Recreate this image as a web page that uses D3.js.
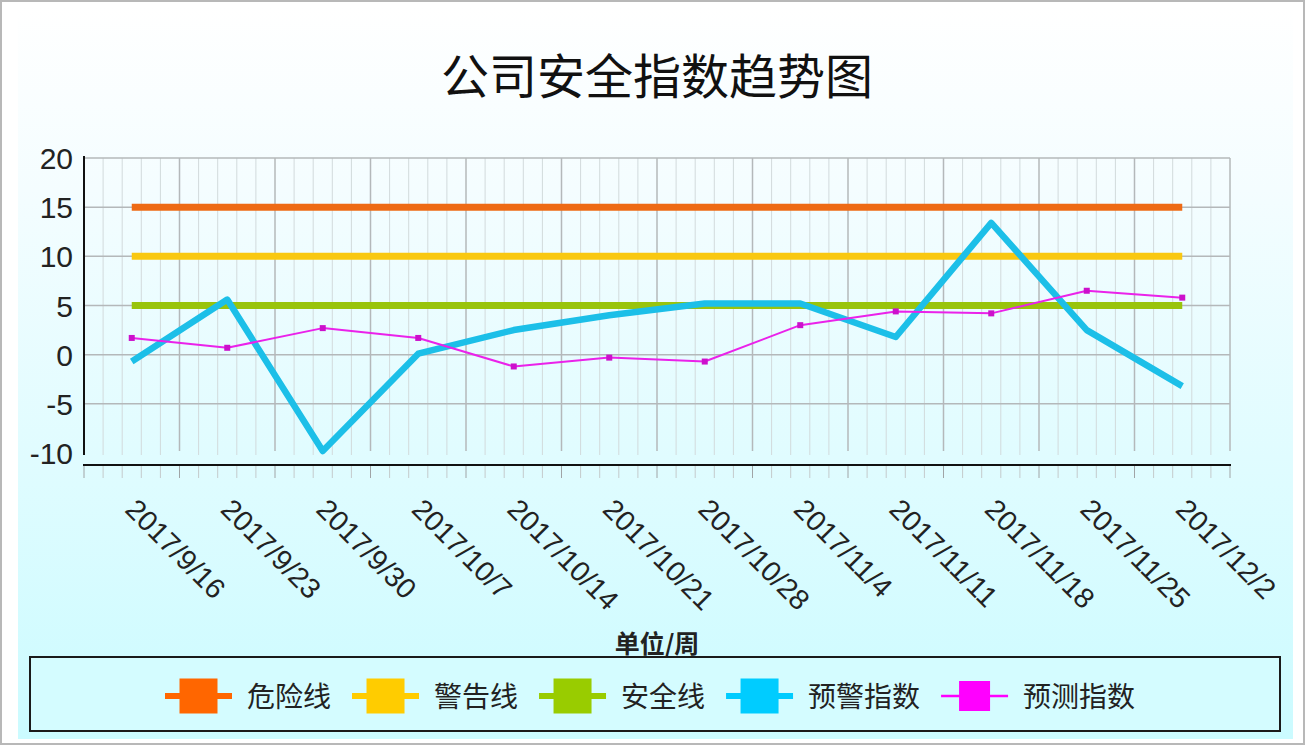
<!DOCTYPE html>
<html>
<head>
<meta charset="utf-8">
<script src="https://cdn.jsdelivr.net/npm/d3@7/dist/d3.min.js"></script>
<style>
    html, body { margin: 0; padding: 0; background: #fff; }
    svg { display: block; }
</style>
</head>
<body>
<svg id="chart" width="1305" height="745"></svg>
<script>
// chart data
const chartTitle = "公司安全指数趋势图";
const xAxisTitle = "单位/周";
const weeks = ["2017/9/16", "2017/9/23", "2017/9/30", "2017/10/7", "2017/10/14", "2017/10/21",
    "2017/10/28", "2017/11/4", "2017/11/11", "2017/11/18", "2017/11/25", "2017/12/2"];
const dangerLevel = 15;
const warningLevel = 10;
const safeLevel = 5;
const warningIndex = [-0.7, 5.6, -9.8, 0.1, 2.5, 4.0, 5.2, 5.2, 1.8, 13.4, 2.5, -3.2];
const forecastIndex = [1.7, 0.7, 2.7, 1.7, -1.2, -0.3, -0.7, 3.0, 4.4, 4.2, 6.5, 5.8];
const yTicks = [-10, -5, 0, 5, 10, 15, 20];
const seriesNames = ["危险线", "警告线", "安全线", "预警指数", "预测指数"];

const colors = ["#ee6a14", "#f9c811", "#99c40c", "#1cbfe8", "#ea22ea"];
const legendColors = ["#ff6600", "#ffcc00", "#99cc00", "#00ccff", "#ff00ff"];

// series table built from the arrays above
const series = [
    {name: seriesNames[0], values: weeks.map(() => dangerLevel), width: 7},
    {name: seriesNames[1], values: weeks.map(() => warningLevel), width: 7},
    {name: seriesNames[2], values: weeks.map(() => safeLevel), width: 7},
    {name: seriesNames[3], values: warningIndex, width: 6.5},
    {name: seriesNames[4], values: forecastIndex, width: 2, markers: true}
];
series.forEach((s, i) => { s.color = colors[i]; s.legendColor = legendColors[i]; });

const svg = d3.select("#chart");
const W = 1305, H = 745;
const plot = {left: 84, right: 1230, top: 158, bottom: 453};

// background
const defs = svg.append("defs");
const grad = defs.append("linearGradient").attr("id", "bg").attr("x1", 0).attr("y1", 0).attr("x2", 0).attr("y2", 1);
grad.append("stop").attr("offset", "0%").attr("stop-color", "#ffffff");
grad.append("stop").attr("offset", "25%").attr("stop-color", "#f4fdff");
grad.append("stop").attr("offset", "100%").attr("stop-color", "#cbfbff");

svg.append("rect").attr("x", 0.5).attr("y", 0.5).attr("width", W - 1).attr("height", H - 1)
    .attr("fill", "#fff").attr("stroke", "#b8b8b8").attr("stroke-width", 3);
svg.append("rect").attr("x", 18).attr("y", 6).attr("width", W - 30).attr("height", H - 12)
    .attr("fill", "url(#bg)");

// scales
const x = d3.scaleBand().domain(weeks).range([plot.left, plot.right]).padding(0);
const xc = d => x(d) + x.bandwidth() / 2;
const y = d3.scaleLinear().domain([-10, 20]).range([plot.bottom, plot.top]);

// vertical grid: band edges plus 5 subdivisions per band
const minorX = [];
weeks.forEach(w => {
    for (let k = 0; k < 5; k++) minorX.push({x: x(w) + k * x.bandwidth() / 5, major: k === 0});
});
minorX.push({x: plot.right, major: true});

const grid = svg.append("g").attr("class", "grid");
grid.selectAll("line.vminor").data(minorX.filter(d => !d.major)).enter().append("line")
    .attr("class", "vminor")
    .attr("x1", d => d.x).attr("x2", d => d.x)
    .attr("y1", plot.top).attr("y2", plot.bottom + 2)
    .attr("stroke", "#d2dadc").attr("stroke-width", 1);
grid.selectAll("line.vmajor").data(minorX.filter(d => d.major && d.x > plot.left)).enter().append("line")
    .attr("class", "vmajor")
    .attr("x1", d => d.x).attr("x2", d => d.x)
    .attr("y1", plot.top).attr("y2", plot.bottom - 2)
    .attr("stroke", "#b4b8ba").attr("stroke-width", 1.5);
grid.selectAll("line.h").data(yTicks.filter(v => v > -10)).enter().append("line")
    .attr("class", "h")
    .attr("x1", plot.left).attr("x2", plot.right)
    .attr("y1", d => y(d)).attr("y2", d => y(d))
    .attr("stroke", "#b4b8ba").attr("stroke-width", 1.5);

// x ticks under the axis line
svg.append("g").selectAll("line").data(minorX).enter().append("line")
    .attr("x1", d => d.x).attr("x2", d => d.x)
    .attr("y1", 466).attr("y2", 478)
    .attr("stroke", d => d.major ? "#a0a4a6" : "#c4cacc").attr("stroke-width", 1);

// axis lines
svg.append("line").attr("x1", plot.left).attr("x2", plot.left).attr("y1", plot.top - 2).attr("y2", plot.bottom + 2)
    .attr("stroke", "#111").attr("stroke-width", 2);
svg.append("line").attr("x1", plot.left - 1).attr("x2", plot.right + 1).attr("y1", 465).attr("y2", 465)
    .attr("stroke", "#111").attr("stroke-width", 2);

// y labels
svg.append("g").selectAll("text").data(yTicks).enter().append("text")
    .attr("x", 73).attr("y", d => y(d) + 11)
    .attr("text-anchor", "end")
    .attr("font-family", "'Liberation Sans', Arial, sans-serif")
    .attr("font-size", 30).attr("fill", "#222")
    .text(d => d);

// x labels
svg.append("g").selectAll("text").data(weeks).enter().append("text")
    .attr("transform", d => `translate(${xc(d) - 8},511) rotate(45)`)
    .attr("font-family", "'Liberation Sans', Arial, sans-serif")
    .attr("font-size", 28.5).attr("fill", "#222")
    .text(d => d);

// lines
const line = d3.line().x((d, i) => xc(weeks[i])).y(d => y(d));
const lines = svg.append("g").attr("class", "lines");
lines.selectAll("path").data(series).enter().append("path")
    .attr("fill", "none")
    .attr("stroke", d => d.color)
    .attr("stroke-width", d => d.width)
    .attr("stroke-linejoin", "round")
    .attr("d", d => line(d.values));

const markerSeries = series.filter(s => s.markers);
markerSeries.forEach(s => {
    lines.append("g").selectAll("rect").data(s.values).enter().append("rect")
        .attr("x", (d, i) => xc(weeks[i]) - 3).attr("y", d => y(d) - 3)
        .attr("width", 6).attr("height", 6)
        .attr("fill", "#cc10cc");
});

// titles
svg.append("text").attr("x", 657).attr("y", 94)
    .attr("text-anchor", "middle")
    .attr("font-family", "'Noto Sans CJK SC', sans-serif")
    .attr("font-size", 48).attr("fill", "#111")
    .text(chartTitle);
svg.append("text").attr("x", 657).attr("y", 653)
    .attr("text-anchor", "middle")
    .attr("font-family", "'Noto Sans CJK SC', sans-serif")
    .attr("font-weight", "bold")
    .attr("font-size", 25).attr("fill", "#222")
    .text(xAxisTitle);

// legend
svg.append("rect").attr("x", 30).attr("y", 657).attr("width", 1250).attr("height", 74)
    .attr("fill", "#d4fcff").attr("stroke", "#1a1a1a").attr("stroke-width", 2);

const legendFont = 28;
let lx = 165;
const ly = 696;
series.forEach(s => {
    const g = svg.append("g").attr("transform", `translate(${lx},${ly})`);
    const thick = s.markers ? 2.5 : 6;
    const sq = s.markers ? {w: 31, h: 30} : {w: 38, h: 35};
    g.append("line").attr("x1", 0).attr("x2", 67).attr("y1", 0).attr("y2", 0)
        .attr("stroke", s.legendColor).attr("stroke-width", thick);
    g.append("rect").attr("x", 33.5 - sq.w / 2).attr("y", -sq.h / 2)
        .attr("width", sq.w).attr("height", sq.h).attr("fill", s.legendColor);
    const t = g.append("text").attr("x", 82).attr("y", 11)
        .attr("font-family", "'Noto Sans CJK SC', sans-serif")
        .attr("font-size", legendFont).attr("fill", "#222")
        .text(s.name);
    lx += 82 + t.node().getComputedTextLength() + 21;
});
</script>
</body>
</html>
